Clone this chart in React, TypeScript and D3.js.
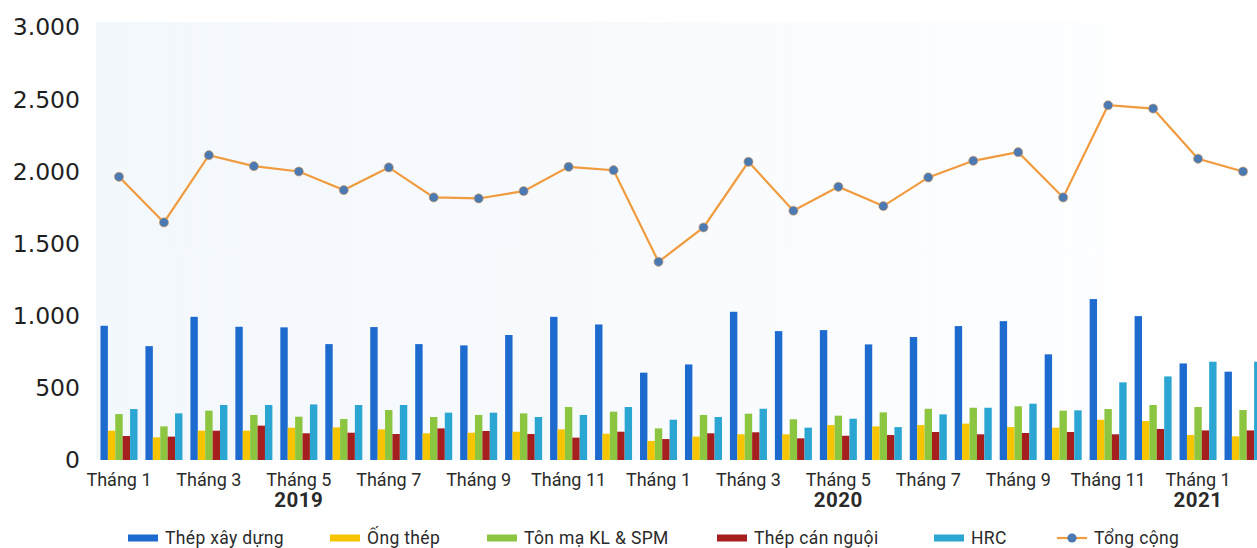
import React from "react";
import * as d3 from "d3";

// Monthly steel sales (thousand tonnes), Jan 2019 – Feb 2021
const months = [
  "Tháng 1", "Tháng 2", "Tháng 3", "Tháng 4", "Tháng 5", "Tháng 6",
  "Tháng 7", "Tháng 8", "Tháng 9", "Tháng 10", "Tháng 11", "Tháng 12",
  "Tháng 1", "Tháng 2", "Tháng 3", "Tháng 4", "Tháng 5", "Tháng 6",
  "Tháng 7", "Tháng 8", "Tháng 9", "Tháng 10", "Tháng 11", "Tháng 12",
  "Tháng 1", "Tháng 2",
];

// Year captions and the month index they sit under
const yearLabels = ["2019", "2020", "2021"];
const yearAnchors = [4, 16, 24];

const thepXayDung = [930, 789, 992, 923, 919, 803, 921, 803, 794, 866, 992, 939, 605, 662, 1027, 893, 900, 801, 852, 928, 962, 732, 1115, 997, 669, 612];
const ongThep = [203, 157, 203, 203, 224, 226, 212, 185, 189, 196, 212, 182, 132, 162, 178, 178, 242, 233, 242, 252, 228, 224, 279, 270, 173, 164];
const tonMa = [318, 233, 342, 312, 300, 284, 346, 298, 312, 323, 367, 335, 219, 312, 321, 282, 307, 330, 355, 362, 372, 342, 353, 381, 367, 346];
const thepCanNguoi = [166, 162, 203, 238, 185, 189, 180, 219, 201, 180, 155, 196, 145, 185, 192, 150, 168, 173, 194, 178, 187, 194, 178, 215, 205, 205];
const hrc = [353, 323, 381, 381, 385, 381, 381, 328, 328, 298, 312, 367, 279, 298, 355, 224, 286, 228, 316, 362, 390, 344, 538, 579, 681, 681];
const tongCong = [1962, 1646, 2112, 2036, 1999, 1870, 2027, 1819, 1812, 1863, 2031, 2008, 1373, 1611, 2066, 1727, 1893, 1759, 1958, 2073, 2133, 1819, 2458, 2435, 2087, 1999];

const yTicks = [0, 500, 1000, 1500, 2000, 2500, 3000];

const seriesNames = ["Thép xây dựng", "Ống thép", "Tôn mạ KL & SPM", "Thép cán nguội", "HRC"];
const seriesValues = [thepXayDung, ongThep, tonMa, thepCanNguoi, hrc];
const seriesColors = ["#1e6bcf", "#f7c500", "#8cc53f", "#a41f1d", "#2ba6d2"];
const totalName = "Tổng cộng";
const lineColor = "#f09b3e";
const dotColor = "#4b79b2";

const W = 1257;
const H = 548;
const FONT = "Roboto, 'Open Sans', sans-serif";
const AXIS_FONT = "'DejaVu Sans', Roboto, sans-serif";

const fmt = (v: number) => d3.format(",")(v).replace(/,/g, ".");

export default function App() {
  const x = d3.scalePoint<number>()
    .domain(d3.range(months.length))
    .range([96.5, 1265.5])
    .padding(0.5);

  const groupWidth = 37;
  const inner = d3.scaleBand<number>()
    .domain(d3.range(seriesNames.length))
    .range([-groupWidth / 2, groupWidth / 2])
    .padding(0);

  const y = d3.scaleLinear().domain([0, 3000]).range([460, 27]);

  const line = d3.line<number>()
    .x((_, i) => x(i) as number)
    .y((d) => y(d));

  // legend layout
  const legendY = 538;
  const legendX = [128, 330, 487, 717, 934];
  const legendLineX = 1057;

  return (
    <svg
      width={W}
      height={H}
      style={{ position: "absolute", left: 0, top: 0, background: "#ffffff" }}
      fontFamily={FONT}
    >
      <defs>
        <linearGradient id="plotBg" x1="0" x2="1" y1="0" y2="0">
          <stop offset="0" stopColor="#f3f8fc" />
          <stop offset="0.55" stopColor="#f9fbfe" />
          <stop offset="1" stopColor="#ffffff" />
        </linearGradient>
      </defs>
      <rect x={96} y={22} width={W - 96} height={438} fill="url(#plotBg)" />

      {/* y axis labels */}
      {yTicks.map((t) => (
        <text
          key={t}
          x={80}
          y={y(t)}
          dy="0.36em"
          textAnchor="end"
          fontSize={23.5}
          fontFamily={AXIS_FONT}
          fill="#1f1f1f"
        >
          {fmt(t)}
        </text>
      ))}

      {/* bars */}
      {seriesValues.map((vals, s) => (
        <g key={s} fill={seriesColors[s]}>
          {vals.map((v, i) => (
            <rect
              key={i}
              x={(x(i) as number) + (inner(s) as number)}
              y={y(v)}
              width={inner.bandwidth()}
              height={y(0) - y(v)}
            />
          ))}
        </g>
      ))}

      {/* total line */}
      <path d={line(tongCong) || ""} fill="none" stroke={lineColor} strokeWidth={2.2} />
      {tongCong.map((v, i) => (
        <circle key={i} cx={x(i) as number} cy={y(v)} r={4.6} fill={dotColor} stroke="#e9a15a" strokeWidth={0.6} />
      ))}

      {/* month labels */}
      {months.map((m, i) =>
        i % 2 === 0 ? (
          <text key={i} x={x(i) as number} y={486} textAnchor="middle" fontSize={18} fill="#2a2a2a">
            {m}
          </text>
        ) : null
      )}

      {/* year labels */}
      {yearLabels.map((yl, k) => (
        <text
          key={yl}
          x={x(yearAnchors[k]) as number}
          y={507}
          textAnchor="middle"
          fontSize={20.5}
          fontWeight={700}
          letterSpacing={0.5}
          fill="#2a2a2a"
        >
          {yl}
        </text>
      ))}

      {/* legend */}
      {seriesNames.map((n, s) => (
        <g key={n}>
          <rect x={legendX[s]} y={legendY - 3.5} width={30} height={7} fill={seriesColors[s]} />
          <text x={legendX[s] + 37} y={legendY + 6} fontSize={17.5} letterSpacing={0.35} fill="#2a2a2a">
            {n}
          </text>
        </g>
      ))}
      <g>
        <line x1={legendLineX} x2={legendLineX + 30} y1={legendY} y2={legendY} stroke={lineColor} strokeWidth={2.2} />
        <circle cx={legendLineX + 15} cy={legendY} r={4.6} fill={dotColor} />
        <text x={legendLineX + 37} y={legendY + 6} fontSize={17.5} letterSpacing={0.35} fill="#2a2a2a">
          {totalName}
        </text>
      </g>
    </svg>
  );
}
